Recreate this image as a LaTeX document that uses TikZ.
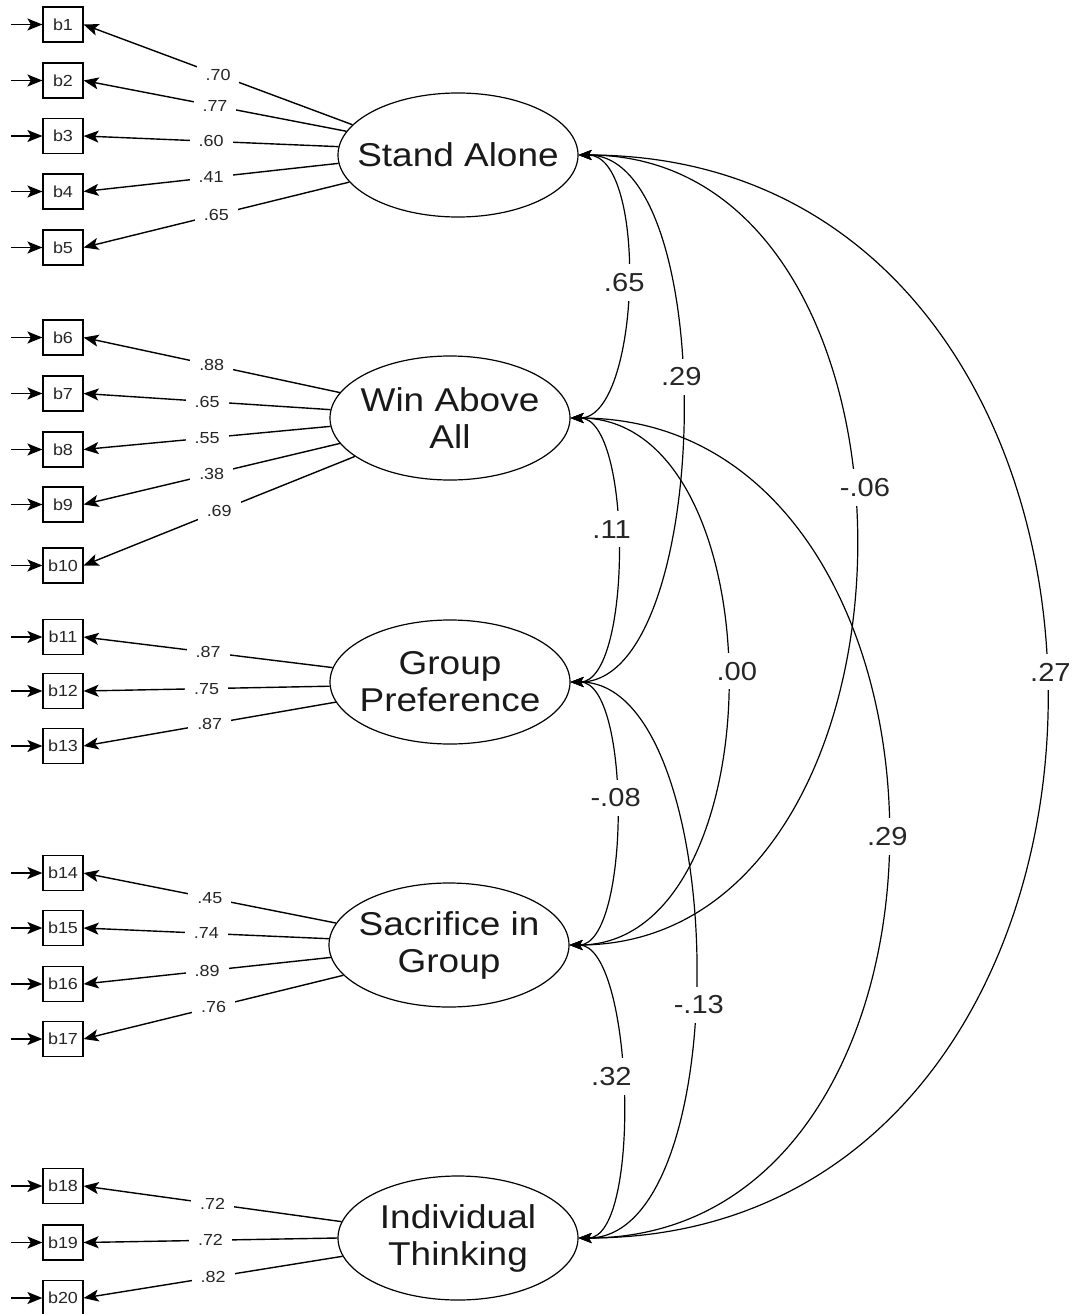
\documentclass[tikz,border=0pt]{standalone}
\usepackage{fontspec}
\setmainfont{Liberation Sans}[FakeStretch=1.12]
\usetikzlibrary{arrows.meta,shapes.geometric}

\begin{document}
\begin{tikzpicture}[x=1pt,y=-1pt,
  latent/.style={ellipse,draw,line width=1.2pt,minimum width=240pt,minimum height=124pt,inner sep=0pt},
  lname/.style={font=\fontsize{33}{37}\selectfont,align=center,text=black!90},
  item/.style={rectangle,draw,line width=1.2pt,minimum width=40pt,minimum height=35pt,inner sep=0pt,
    font=\fontsize{16}{18}\selectfont,text=black!85},
  tipend/.style={-{Stealth[length=15pt,width=12pt,inset=3.5pt]}},
  err/.style={line width=1.5pt,tipend},
  load/.style={line width=1.4pt,tipend},
  llab/.style={fill=white,inner sep=9pt,font=\fontsize{16}{18}\selectfont,text=black!85},
  cov/.style={line width=1.2pt,{Stealth[length=13pt,width=10pt,inset=3pt]}-{Stealth[length=13pt,width=10pt,inset=3pt]}},
  clab/.style={fill=white,inner sep=9pt,font=\fontsize{26}{30}\selectfont,text=black!85},
]
\useasboundingbox (0,0) rectangle (1078,1314);

% latent factors
\node[latent,label={[lname]center:Stand Alone}] (sa) at (458,155) {};
\node[latent,label={[lname]center:{Win Above\\All}}] (wa) at (450,418) {};
\node[latent,label={[lname]center:{Group\\Preference}}] (gp) at (450,682) {};
\node[latent,label={[lname]center:{Sacrifice in\\Group}}] (sg) at (449,945) {};
\node[latent,label={[lname]center:{Individual\\Thinking}}] (it) at (458,1238) {};

% observed items with their error arrows
\foreach \n/\y in {1/24.5,2/80.5,3/136,4/191.5,5/247.5,
                   6/337.5,7/393.5,8/449.5,9/504.5,10/565.5,
                   11/637,12/691,13/746,
                   14/873,15/928,16/984,17/1039,
                   18/1186,19/1242.5,20/1298}{
  \node[item] (b\n) at (63,\y) {b\n};
  \coordinate (e\n) at (11,\y);
  \draw[err] (e\n) -- (b\n);
}

% factor loadings
\foreach \f/\n/\a/\v in {sa/1/164/.70, sa/2/168/.77, sa/3/176/.60, sa/4/184/.41, sa/5/194/.65,
                         wa/6/167.5/.88, wa/7/176/.65, wa/8/184/.55, wa/9/193/.38, wa/10/202/.69,
                         gp/11/173/.87, gp/12/182/.75, gp/13/190/.87,
                         sg/14/169/.45, sg/15/177.5/.74, sg/16/186/.89, sg/17/196/.76,
                         it/18/172/.72, it/19/180/.72, it/20/189/.82}{
  \draw[load] (\f.\a) -- node[llab] {\v} (b\n.east);
}

% factor covariances
\draw[cov] (sa.east) .. controls +(70,0) and +(70,0) .. node[clab,pos=0.49,xshift=-3pt] {.65} (wa.east);
\draw[cov] (sa.east) .. controls +(143,0) and +(143,0) .. node[clab,pos=0.447] {.29} (gp.east);
\draw[cov] (sa.east) .. controls +(375,0) and +(375,0) .. node[clab,pos=0.447,xshift=12pt] {-.06} (sg.east);
\draw[cov] (sa.east) .. controls +(623,0) and +(623,0) .. node[clab,pos=0.485,xshift=5pt] {.27} (it.east);
\draw[cov] (wa.east) .. controls +(62,0) and +(62,0) .. node[clab,pos=0.447,xshift=-5pt] {.11} (gp.east);
\draw[cov] (wa.east) .. controls +(209,0) and +(209,0) .. node[clab,pos=0.487,xshift=10pt] {.00} (sg.east);
\draw[cov] (wa.east) .. controls +(417,0) and +(417,0) .. node[clab,pos=0.507] {.29} (it.east);
\draw[cov] (gp.east) .. controls +(61,0) and +(61,0) .. node[clab,pos=0.46] {-.08} (sg.east);
\draw[cov] (gp.east) .. controls +(160,0) and +(160,0) .. node[clab,pos=0.554,xshift=5pt] {-.13} (it.east);
\draw[cov] (sg.east) .. controls +(64,0) and +(64,0) .. node[clab,pos=0.466,xshift=-10pt] {.32} (it.east);
\end{tikzpicture}
\end{document}
